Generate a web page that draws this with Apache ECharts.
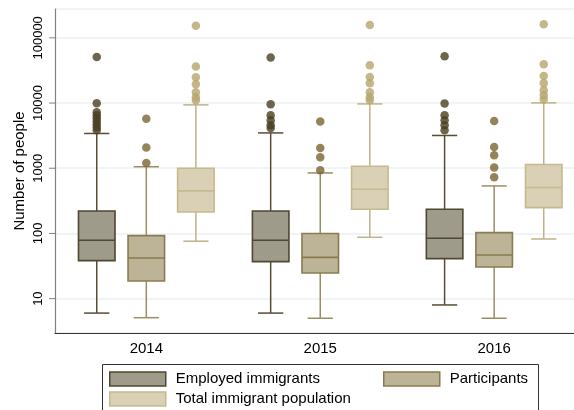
<!DOCTYPE html>
<html>
<head>
<meta charset="utf-8">
<script src="https://cdn.jsdelivr.net/npm/echarts@6/dist/echarts.min.js"></script>
<style>
  html, body { margin: 0; padding: 0; background: #fff; }
  #chart { width: 574px; height: 410px; }
</style>
</head>
<body>
<div id="chart"></div>
<script>
// Years on the horizontal axis
const years = ['2014', '2015', '2016'];

// Box summaries per year: [lower whisker, Q1, median, Q3, upper whisker]
const employedBox = [
  [6.0, 38.3, 78.5, 221, 3414],
  [6.0, 37.0, 78.5, 221, 3480],
  [8.0, 41.1, 84.3, 235, 3180]
];
const participantsBox = [
  [5.1, 18.6, 42.0, 92.7, 1055],
  [5.0, 24.7, 43.0, 99.6, 847],
  [5.0, 30.5, 46.7, 103, 535]
];
const totalBox = [
  [75.9, 213, 449, 1000, 9370],
  [87.3, 235, 476, 1075, 9700],
  [82.2, 249, 506, 1140, 10050]
];

// Outside values per year
const employedOut = [
  [51000, 9950, 7240, 6510, 5850, 5250, 4730, 4260, 3830],
  [50000, 9600, 6510, 5460, 4580, 4140],
  [52400, 9840, 6510, 5460, 4580, 3830]
];
const participantsOut = [
  [5720, 2080, 1205],
  [5210, 2050, 1475, 931],
  [5320, 2120, 1585, 1030, 725]
];
const totalOut = [
  [152800, 36400, 24900, 19500, 14700, 12300, 11070],
  [158000, 38100, 25000, 20200, 14700, 12300, 11070],
  [162000, 39500, 25900, 20200, 15700, 13200, 11300]
];

// Log-axis tick labels
const yTicks = [10, 100, 1000, 10000, 100000];

const FONT = 'Liberation Sans, Arial, sans-serif';
const X_MIN = 0.475;
const X_MAX = 3.459;

const groups = [
  { name: 'Employed immigrants', box: employedBox, out: employedOut, offset: -0.285,
    fill: '#9f9b8b', border: '#4f4730', whisker: '#574d33', dot: '#4a3e20' },
  { name: 'Participants', box: participantsBox, out: participantsOut, offset: 0,
    fill: '#bdb498', border: '#8a7b4f', whisker: '#9b8d63', dot: '#7a6431' },
  { name: 'Total immigrant population', box: totalBox, out: totalOut, offset: 0.285,
    fill: '#d9d0b5', border: '#c6b98e', whisker: '#bfb289', dot: '#b7a56d' }
];

const BOX_W = 0.21;   // box width in axis units
const CAP_W = 0.145;  // whisker cap width in axis units

function boxRenderer(g) {
  return function (params, api) {
    const x = api.value(0);
    const lo = api.coord([x, api.value(1)]);
    const q1 = api.coord([x, api.value(2)]);
    const md = api.coord([x, api.value(3)]);
    const q3 = api.coord([x, api.value(4)]);
    const hi = api.coord([x, api.value(5)]);
    const left = api.coord([x - BOX_W / 2, api.value(3)])[0];
    const right = api.coord([x + BOX_W / 2, api.value(3)])[0];
    const capL = api.coord([x - CAP_W / 2, api.value(3)])[0];
    const capR = api.coord([x + CAP_W / 2, api.value(3)])[0];
    const cx = lo[0];
    const wStyle = { stroke: g.whisker, lineWidth: 1.5, fill: null };
    return {
      type: 'group',
      children: [
        { type: 'line', shape: { x1: cx, y1: lo[1], x2: cx, y2: q1[1] }, style: wStyle },
        { type: 'line', shape: { x1: cx, y1: q3[1], x2: cx, y2: hi[1] }, style: wStyle },
        { type: 'line', shape: { x1: capL, y1: lo[1], x2: capR, y2: lo[1] }, style: wStyle },
        { type: 'line', shape: { x1: capL, y1: hi[1], x2: capR, y2: hi[1] }, style: wStyle },
        { type: 'rect', shape: { x: left, y: q3[1], width: right - left, height: q1[1] - q3[1] },
          style: { fill: g.fill, stroke: g.border, lineWidth: 1.6 } },
        { type: 'line', shape: { x1: left, y1: md[1], x2: right, y2: md[1] },
          style: { stroke: g.border, lineWidth: 1.6 } }
      ]
    };
  };
}

const series = [];
groups.forEach(function (g) {
  series.push({
    type: 'custom',
    name: g.name,
    renderItem: boxRenderer(g),
    encode: { x: 0, y: [1, 2, 3, 4, 5] },
    data: g.box.map(function (b, i) { return [i + 1 + g.offset].concat(b); }),
    itemStyle: { color: g.fill, borderColor: g.border },
    z: 2,
    silent: true
  });
});
groups.forEach(function (g) {
  const pts = [];
  g.out.forEach(function (vals, i) {
    vals.forEach(function (v) { pts.push([i + 1 + g.offset, v]); });
  });
  series.push({
    type: 'scatter',
    name: g.name + ' outliers',
    data: pts,
    symbol: 'circle',
    symbolSize: 8.5,
    itemStyle: { color: g.dot },
    z: 3,
    silent: true
  });
});

// Outward tick marks on the log axis at each labelled decade
series.push({
  type: 'custom',
  name: 'y ticks',
  clip: false,
  silent: true,
  z: 4,
  encode: { x: 0, y: 1 },
  data: yTicks.map(function (v) { return [X_MIN, v]; }),
  renderItem: function (params, api) {
    const p = api.coord([api.value(0), api.value(1)]);
    return {
      type: 'line',
      shape: { x1: p[0] - 6, y1: p[1], x2: p[0], y2: p[1] },
      style: { stroke: '#808080', lineWidth: 1 }
    };
  }
});

function legendFor(g, left, top) {
  return {
    left: left, top: top, padding: 0,
    itemWidth: 56, itemHeight: 14, itemGap: 0,
    selectedMode: false,
    textStyle: { fontFamily: FONT, fontSize: 15, color: '#000', padding: [0, 0, 0, 5], lineHeight: 16 },
    data: [{ name: g.name, icon: 'rect',
      itemStyle: { color: g.fill, borderColor: g.border, borderWidth: 1.5 } }]
  };
}

const chart = echarts.init(document.getElementById('chart'), null, { renderer: 'canvas' });
chart.setOption({
  animation: false,
  backgroundColor: '#ffffff',
  grid: { left: 55, top: 9, width: 519, height: 324, containLabel: false },
  xAxis: {
    type: 'value',
    min: X_MIN,
    max: X_MAX,
    axisLine: { show: true, lineStyle: { color: '#333', width: 1.2 } },
    axisTick: { show: false },
    splitLine: { show: false },
    axisLabel: {
      customValues: [1, 2, 3],
      formatter: function (v) { return years[Math.round(v) - 1]; },
      fontFamily: FONT, fontSize: 15, color: '#000', margin: 8
    }
  },
  yAxis: {
    type: 'log',
    logBase: 10,
    min: 2.97,
    max: 277000,
    name: 'Number of people',
    nameLocation: 'middle',
    nameRotate: 90,
    nameGap: 28,
    nameMoveOverlap: false,
    nameTextStyle: { fontFamily: FONT, fontSize: 15, color: '#000' },
    axisLine: { show: true, lineStyle: { color: '#808080', width: 1.2 } },
    axisTick: { show: false },
    splitLine: { show: true, lineStyle: { color: '#eaf0f0', width: 1.5 } },
    axisLabel: {
      customValues: yTicks,
      rotate: 90,
      margin: 10,
      fontFamily: FONT, fontSize: 13, color: '#000',
      formatter: function (v) { return String(Math.round(v)); }
    }
  },
  legend: [
    legendFor(groups[0], 109, 371),
    legendFor(groups[1], 383, 371),
    legendFor(groups[2], 109, 391)
  ],
  graphic: [{
    type: 'rect',
    shape: { x: 102.5, y: 364.5, width: 436, height: 60 },
    style: { fill: null, stroke: '#333', lineWidth: 1 },
    silent: true
  }],
  series: series
});
</script>
</body>
</html>
